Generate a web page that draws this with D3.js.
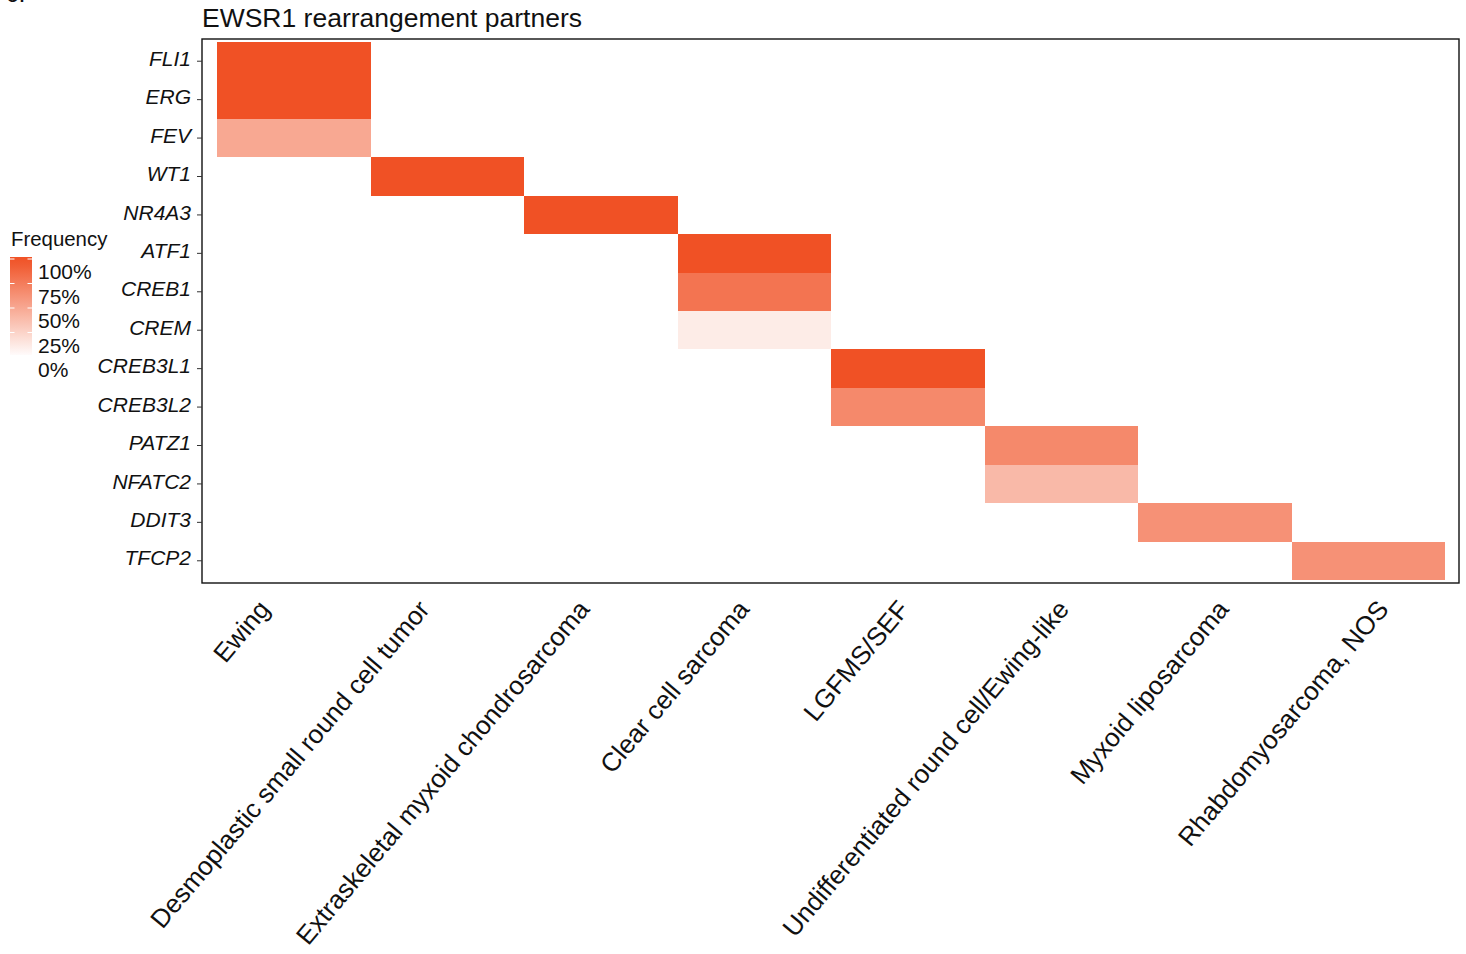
<!DOCTYPE html>
<html>
<head>
<meta charset="utf-8">
<script src="https://cdn.jsdelivr.net/npm/d3@7"></script>
<style>
  html, body { margin: 0; padding: 0; background: #fff; }
  svg { display: block; font-family: Helvetica, Arial, "Liberation Sans", sans-serif; }
</style>
</head>
<body>
<svg id="chart" width="1466" height="954"></svg>
<script>
// Tumour types (columns) and EWSR1 fusion partners (rows)
const groups = [
  "Ewing",
  "Desmoplastic small round cell tumor",
  "Extraskeletal myxoid chondrosarcoma",
  "Clear cell sarcoma",
  "LGFMS/SEF",
  "Undifferentiated round cell/Ewing-like",
  "Myxoid liposarcoma",
  "Rhabdomyosarcoma, NOS"
];
const partners = [
  "FLI1", "ERG", "FEV", "WT1", "NR4A3", "ATF1", "CREB1", "CREM",
  "CREB3L1", "CREB3L2", "PATZ1", "NFATC2", "DDIT3", "TFCP2"
];

// One tile per observed (tumour type, partner) pair
const tileGroup = [
  "Ewing", "Ewing", "Ewing",
  "Desmoplastic small round cell tumor",
  "Extraskeletal myxoid chondrosarcoma",
  "Clear cell sarcoma", "Clear cell sarcoma", "Clear cell sarcoma",
  "LGFMS/SEF", "LGFMS/SEF",
  "Undifferentiated round cell/Ewing-like", "Undifferentiated round cell/Ewing-like",
  "Myxoid liposarcoma",
  "Rhabdomyosarcoma, NOS"
];
const tilePartner = [
  "FLI1", "ERG", "FEV",
  "WT1",
  "NR4A3",
  "ATF1", "CREB1", "CREM",
  "CREB3L1", "CREB3L2",
  "PATZ1", "NFATC2",
  "DDIT3",
  "TFCP2"
];
const tileFreq = [
  1.00, 1.00, 0.50,
  1.00,
  1.00,
  1.00, 0.80, 0.11,
  1.00, 0.68,
  0.68, 0.40,
  0.63,
  0.63
];

// Legend breaks
const legendBreaks = [0, 0.25, 0.5, 0.75, 1];
const legendLabels = ["0%", "25%", "50%", "75%", "100%"];

const tiles = tileGroup.map((g, i) => ({ group: g, partner: tilePartner[i], freq: tileFreq[i] }));

const svg = d3.select("#chart");
const font = 'Helvetica, Arial, "Liberation Sans", sans-serif';

// Panel box
const panel = { left: 202, right: 1459, top: 39, bottom: 583 };

const x = d3.scaleBand()
  .domain(groups)
  .range([panel.left + 15, panel.right - 14])
  .padding(0);

const y = d3.scaleBand()
  .domain(partners)
  .range([panel.top + 3, panel.bottom - 3])
  .padding(0);

const color = d3.scaleLinear()
  .domain([0, 1])
  .range(["#FFFFFF", "#F05125"])
  .interpolate(d3.interpolateRgb);

// Tiles
svg.append("g")
  .selectAll("rect")
  .data(tiles)
  .join("rect")
  .attr("x", d => x(d.group))
  .attr("y", d => y(d.partner))
  .attr("width", x.bandwidth())
  .attr("height", y.bandwidth())
  .attr("fill", d => color(d.freq))
  .attr("shape-rendering", "crispEdges");

// Panel border
svg.append("rect")
  .attr("x", panel.left)
  .attr("y", panel.top)
  .attr("width", panel.right - panel.left)
  .attr("height", panel.bottom - panel.top)
  .attr("fill", "none")
  .attr("stroke", "#111")
  .attr("stroke-width", 1.4);

// Y axis: italic gene names
const yAxis = d3.axisLeft(y).tickSize(5).tickPadding(6);
const yg = svg.append("g")
  .attr("transform", `translate(${panel.left},0)`)
  .call(yAxis);
yg.select(".domain").remove();
yg.selectAll(".tick line").attr("stroke", "#333").attr("stroke-width", 1);
yg.selectAll(".tick text")
  .attr("font-family", font)
  .attr("font-size", 21)
  .attr("font-style", "italic")
  .attr("fill", "#111")
  .attr("dy", "0.22em");

// X axis labels, rotated 50 degrees, anchored at their end
const xLabel = d3.scalePoint()
  .domain(groups)
  .range([271, 1390]);

svg.append("g")
  .selectAll("text")
  .data(groups)
  .join("text")
  .attr("transform", d => `translate(${xLabel(d)},610) rotate(-50)`)
  .attr("text-anchor", "end")
  .attr("font-family", font)
  .attr("font-size", 26)
  .attr("fill", "#111")
  .text(d => d);

// Title
svg.append("text")
  .attr("x", panel.left)
  .attr("y", 27)
  .attr("font-family", font)
  .attr("font-size", 26.5)
  .attr("fill", "#111")
  .text("EWSR1 rearrangement partners");

// Panel letter at the top-left edge
svg.append("text")
  .attr("x", 6)
  .attr("y", 2)
  .attr("font-family", font)
  .attr("font-size", 25)
  .attr("fill", "#111")
  .text("c.");

// Legend
const legend = svg.append("g");
legend.append("text")
  .attr("x", 11)
  .attr("y", 246)
  .attr("font-family", font)
  .attr("font-size", 20.4)
  .attr("fill", "#111")
  .text("Frequency");

const barTop = 257, barBottom = 355, barLeft = 10, barWidth = 22;
const legendY = d3.scaleLinear().domain([0, 1]).range([357, 259]);

const defs = svg.append("defs");
const grad = defs.append("linearGradient")
  .attr("id", "freqGradient")
  .attr("x1", 0).attr("y1", 1).attr("x2", 0).attr("y2", 0);
d3.range(0, 1.0001, 0.1).forEach(t => {
  grad.append("stop")
    .attr("offset", t)
    .attr("stop-color", color(Math.min(1, legendY.invert(barBottom - t * (barBottom - barTop)))));
});

legend.append("rect")
  .attr("x", barLeft)
  .attr("y", barTop)
  .attr("width", barWidth)
  .attr("height", barBottom - barTop)
  .attr("fill", "url(#freqGradient)");

const inBar = legendBreaks.filter(v => legendY(v) >= barTop && legendY(v) <= barBottom);
legend.selectAll("line.tl")
  .data(inBar)
  .join("line")
  .attr("x1", barLeft).attr("x2", barLeft + 4.5)
  .attr("y1", d => legendY(d)).attr("y2", d => legendY(d))
  .attr("stroke", "#fff").attr("stroke-width", 1);
legend.selectAll("line.tr")
  .data(inBar)
  .join("line")
  .attr("x1", barLeft + barWidth - 4.5).attr("x2", barLeft + barWidth)
  .attr("y1", d => legendY(d)).attr("y2", d => legendY(d))
  .attr("stroke", "#fff").attr("stroke-width", 1);

legend.selectAll("text.lab")
  .data(legendBreaks)
  .join("text")
  .attr("x", 38)
  .attr("y", (d) => legendY(d) + 20)
  .attr("font-family", font)
  .attr("font-size", 21)
  .attr("fill", "#111")
  .text((d, i) => legendLabels[i]);
</script>
</body>
</html>
